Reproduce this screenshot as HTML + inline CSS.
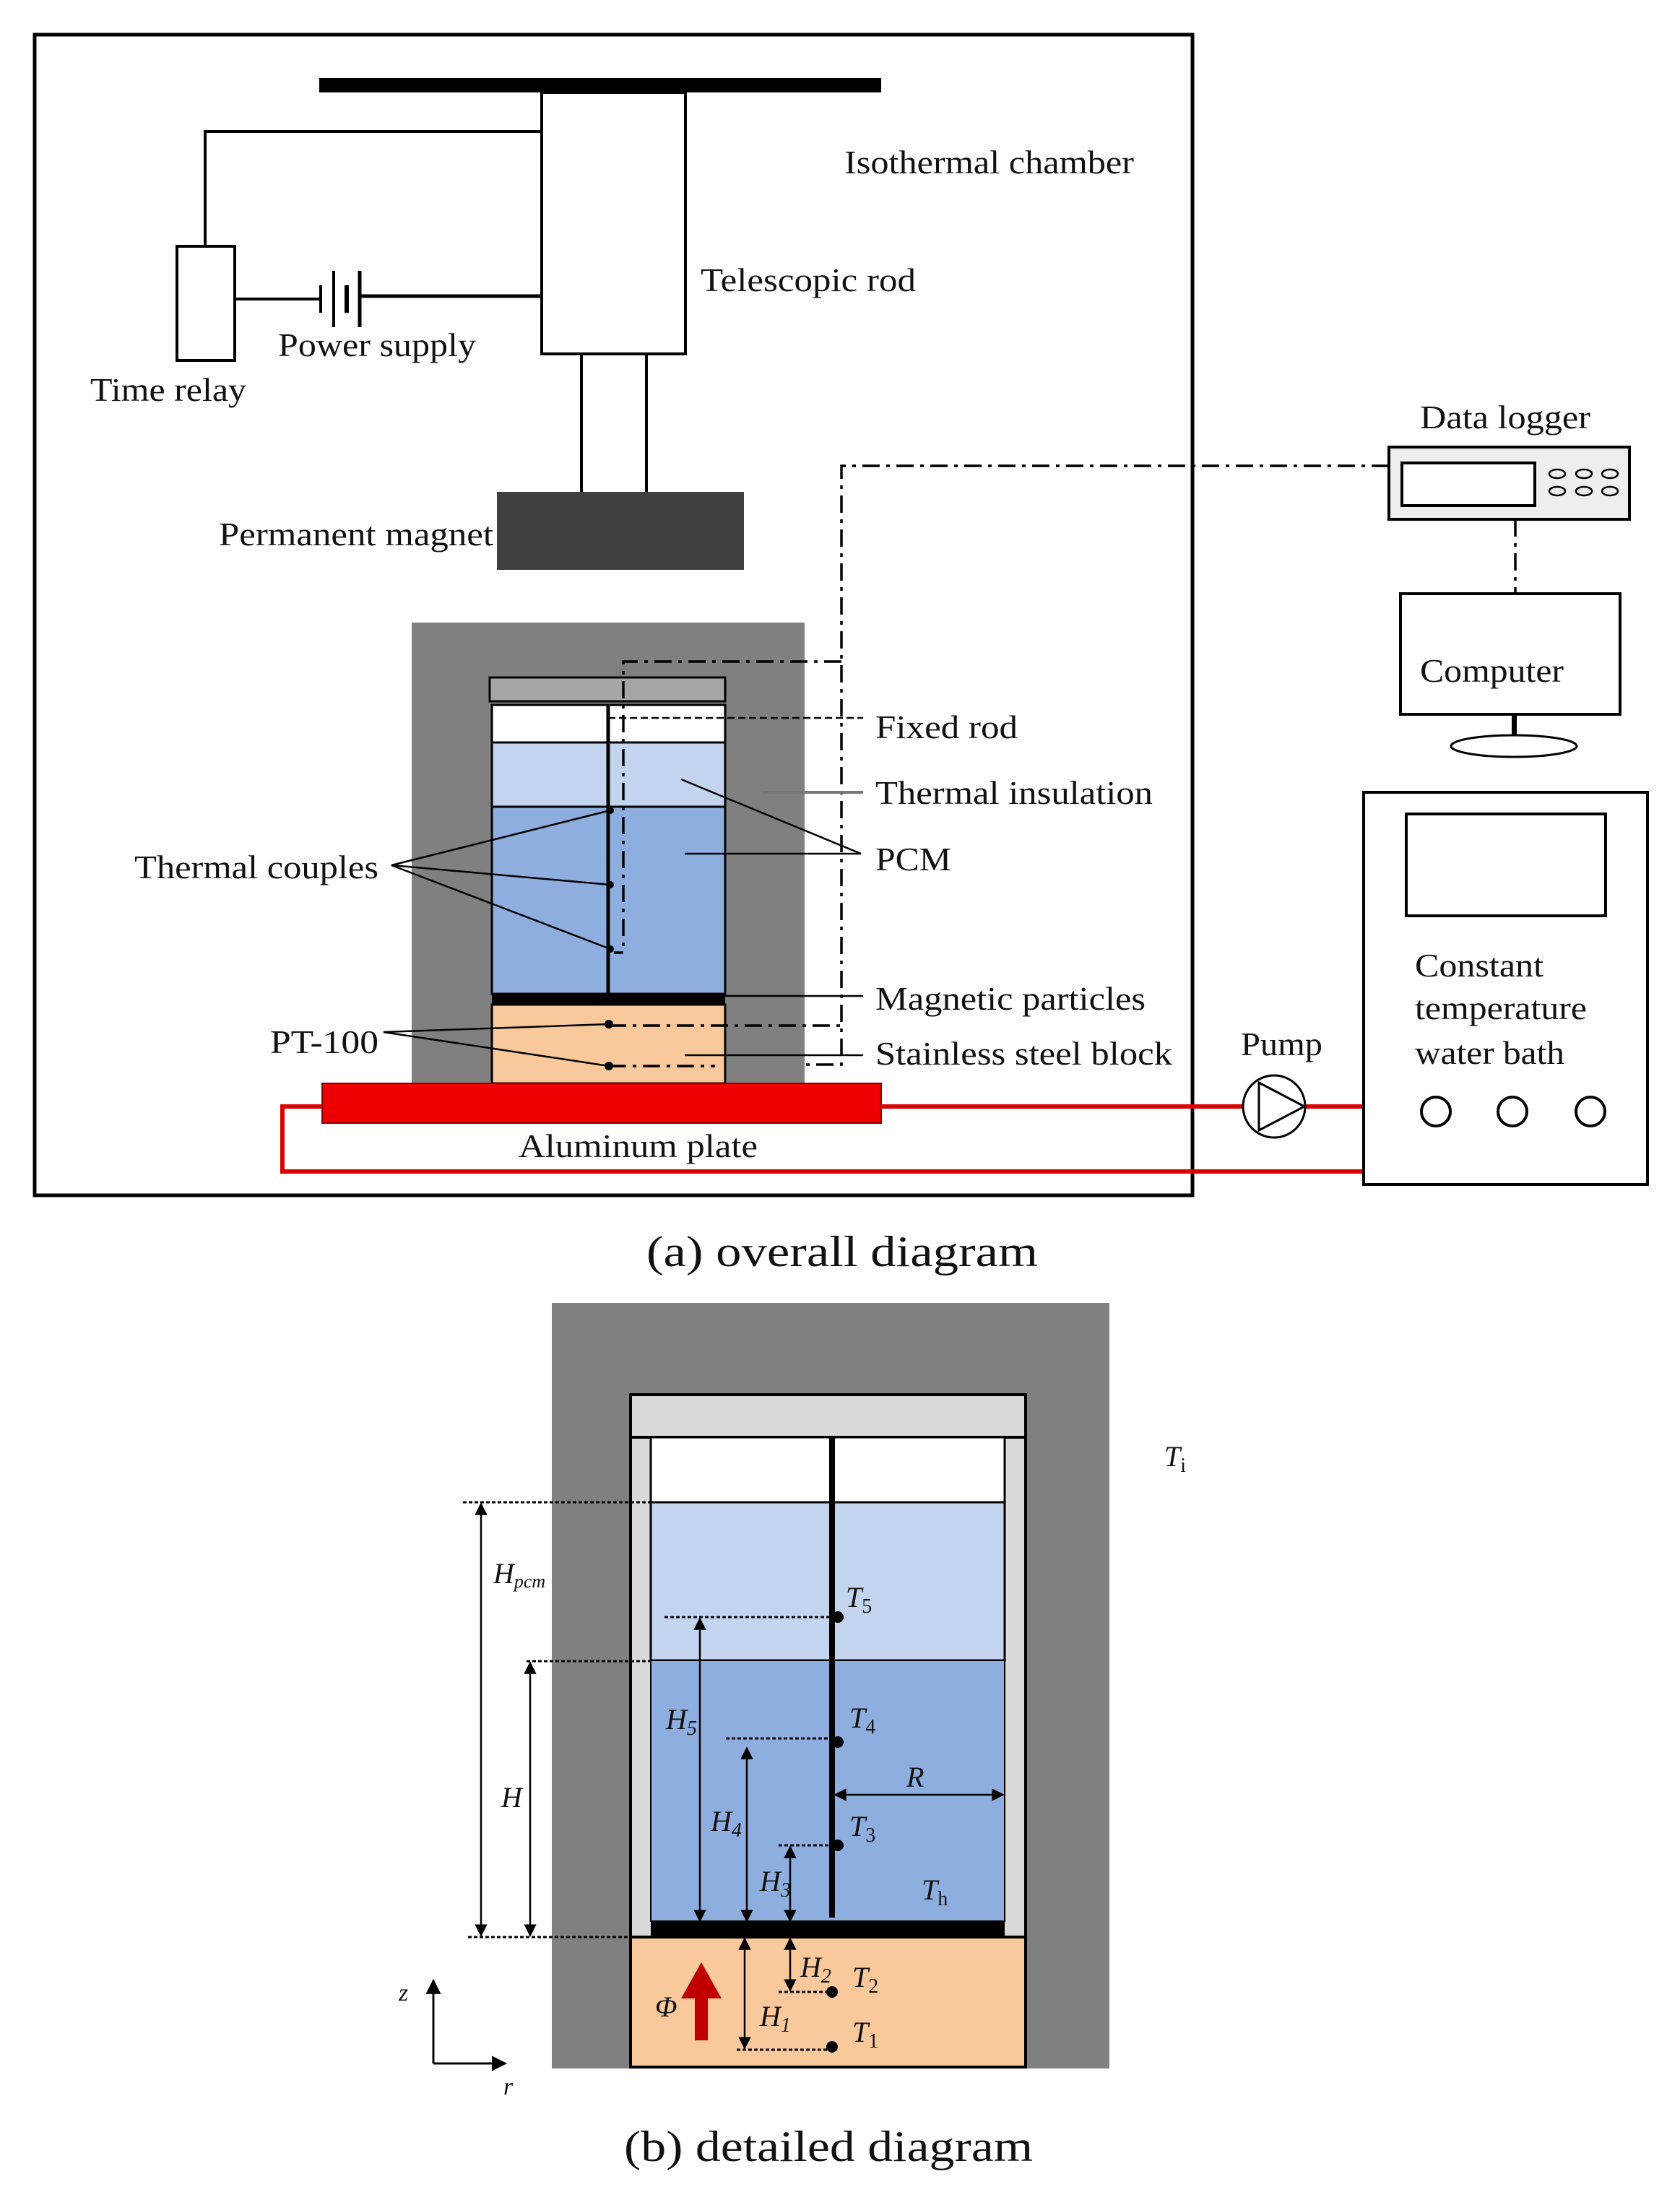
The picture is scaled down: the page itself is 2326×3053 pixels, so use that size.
<!DOCTYPE html>
<html><head><meta charset="utf-8"><style>
html,body{margin:0;padding:0;background:#fff}
svg{display:block}
text{font-family:"Liberation Serif",serif;fill:#111}
</style></head><body>
<svg width="2326" height="3053" viewBox="0 0 2326 3053" xmlns="http://www.w3.org/2000/svg">
<defs>
<marker id="ar" viewBox="0 0 10 10" refX="9" refY="5" markerWidth="7" markerHeight="7" orient="auto-start-reverse"><path d="M0,0 L10,5 L0,10 z" fill="#000"/></marker>
<pattern id="dots" width="12" height="24" patternUnits="userSpaceOnUse"><rect width="12" height="24" fill="#000"/><circle cx="6" cy="3" r="4" fill="#111"/></pattern>
</defs>

<!-- ===== (a) overall ===== -->
<rect x="48" y="48" width="1603" height="1607" fill="none" stroke="#000" stroke-width="5"/>
<rect x="442" y="108" width="778" height="20" fill="#000"/>
<rect x="750" y="128" width="199" height="362" fill="#fff" stroke="#000" stroke-width="4"/>
<line x1="805" y1="490" x2="805" y2="681" stroke="#000" stroke-width="4"/>
<line x1="895" y1="490" x2="895" y2="681" stroke="#000" stroke-width="4"/>
<rect x="688" y="681" width="342" height="108" fill="#404040"/>
<polyline points="750,182 284,182 284,341" fill="none" stroke="#000" stroke-width="4"/>
<rect x="245" y="341" width="80" height="158" fill="#fff" stroke="#000" stroke-width="4"/>
<line x1="325" y1="414" x2="444" y2="414" stroke="#000" stroke-width="4"/>
<line x1="444" y1="395" x2="444" y2="433" stroke="#000" stroke-width="4"/>
<line x1="462" y1="375" x2="462" y2="453" stroke="#000" stroke-width="4"/>
<line x1="480" y1="395" x2="480" y2="433" stroke="#000" stroke-width="6"/>
<line x1="498" y1="375" x2="498" y2="453" stroke="#000" stroke-width="5"/>
<line x1="498" y1="410" x2="750" y2="410" stroke="#000" stroke-width="5"/>

<text x="1169" y="240" font-size="46" textLength="401" lengthAdjust="spacingAndGlyphs">Isothermal chamber</text>
<text x="970" y="403" font-size="46" textLength="298" lengthAdjust="spacingAndGlyphs">Telescopic rod</text>
<text x="385" y="493" font-size="46" textLength="274" lengthAdjust="spacingAndGlyphs">Power supply</text>
<text x="125" y="555" font-size="46" textLength="216" lengthAdjust="spacingAndGlyphs">Time relay</text>
<text x="303" y="755" font-size="46" textLength="380" lengthAdjust="spacingAndGlyphs">Permanent magnet</text>

<!-- insulation + container -->
<rect x="570" y="862" width="544" height="640" fill="#808080"/>
<rect x="678" y="938" width="326" height="33" fill="#a6a6a6" stroke="#000" stroke-width="3"/>
<rect x="681" y="976" width="323" height="52" fill="#fff" stroke="#000" stroke-width="3"/>
<rect x="681" y="1028" width="323" height="89" fill="#c3d5ee" stroke="#000" stroke-width="3"/>
<rect x="681" y="1117" width="323" height="259" fill="#8eaee0" stroke="#000" stroke-width="3"/>
<rect x="681" y="1376" width="323" height="15" fill="#000"/>
<rect x="681" y="1391" width="323" height="109" fill="#f9c89b" stroke="#000" stroke-width="3"/>
<line x1="842" y1="976" x2="842" y2="1376" stroke="#000" stroke-width="5"/>
<circle cx="845" cy="1122" r="5" fill="#000"/><circle cx="845" cy="1225" r="5" fill="#000"/><circle cx="845" cy="1314" r="5" fill="#000"/>
<circle cx="843" cy="1418" r="6" fill="#000"/><circle cx="843" cy="1476" r="6" fill="#000"/>

<!-- dash-dot signal lines -->
<g fill="none" stroke="#000" stroke-width="3.5" stroke-dasharray="24 9 5 9">
<polyline points="1923,645 1165,645 1165,1474 1113,1474"/>
<polyline points="1165,916 863,916 863,1319 850,1319"/>
<line x1="843" y1="1420" x2="1165" y2="1420"/>
<line x1="843" y1="1476" x2="990" y2="1476"/>
<line x1="2098" y1="719" x2="2098" y2="822"/>
</g>
<g fill="none" stroke="#000" stroke-width="2.5">
<line x1="842" y1="994" x2="1195" y2="994" stroke-dasharray="10 5"/>
<line x1="1057" y1="1097" x2="1195" y2="1097" stroke="#777" stroke-width="4"/>
<polyline points="943,1079 1192,1182 948,1182"/>
<polyline points="845,1122 542,1198 845,1225"/>
<line x1="542" y1="1198" x2="845" y2="1314"/>
<line x1="1004" y1="1379" x2="1195" y2="1379"/>
<line x1="948" y1="1461" x2="1195" y2="1461"/>
<polyline points="843,1418 531,1429 843,1476"/>
</g>
<text x="1212" y="1022" font-size="46" textLength="197" lengthAdjust="spacingAndGlyphs">Fixed rod</text>
<text x="1212" y="1113" font-size="46" textLength="384" lengthAdjust="spacingAndGlyphs">Thermal insulation</text>
<text x="1212" y="1205" font-size="46" textLength="105" lengthAdjust="spacingAndGlyphs">PCM</text>
<text x="186" y="1216" font-size="46" textLength="338" lengthAdjust="spacingAndGlyphs">Thermal couples</text>
<text x="1212" y="1398" font-size="46" textLength="374" lengthAdjust="spacingAndGlyphs">Magnetic particles</text>
<text x="1212" y="1474" font-size="46" textLength="411" lengthAdjust="spacingAndGlyphs">Stainless steel block</text>
<text x="374" y="1458" font-size="46" textLength="150" lengthAdjust="spacingAndGlyphs">PT-100</text>

<!-- aluminum plate & water loop -->
<rect x="446" y="1500" width="774" height="55" fill="#ee0000" stroke="#800" stroke-width="2"/>
<polyline points="446,1532 391,1532 391,1622 1888,1622" fill="none" stroke="#d00" stroke-width="6"/>
<line x1="1220" y1="1532" x2="1888" y2="1532" stroke="#d00" stroke-width="6"/>
<text x="718" y="1602" font-size="46" textLength="331" lengthAdjust="spacingAndGlyphs">Aluminum plate</text>
<circle cx="1764" cy="1532" r="43" fill="#fff" stroke="#000" stroke-width="3"/>
<polygon points="1743,1499 1806,1532 1743,1565" fill="none" stroke="#000" stroke-width="3"/>
<text x="1718" y="1461" font-size="46" textLength="113" lengthAdjust="spacingAndGlyphs">Pump</text>

<!-- data logger / computer / bath -->
<text x="1966" y="593" font-size="46" textLength="236" lengthAdjust="spacingAndGlyphs">Data logger</text>
<rect x="1923" y="619" width="333" height="100" fill="#eee" stroke="#000" stroke-width="4"/>
<rect x="1941" y="641" width="184" height="59" fill="#fff" stroke="#000" stroke-width="4"/>
<g fill="none" stroke="#000" stroke-width="2.5">
<ellipse cx="2156" cy="656" rx="11" ry="6"/><ellipse cx="2193" cy="656" rx="11" ry="6"/><ellipse cx="2229" cy="656" rx="11" ry="6"/>
<ellipse cx="2156" cy="680" rx="11" ry="6"/><ellipse cx="2193" cy="680" rx="11" ry="6"/><ellipse cx="2229" cy="680" rx="11" ry="6"/>
</g>
<rect x="1939" y="822" width="304" height="167" fill="#fff" stroke="#000" stroke-width="4"/>
<text x="1966" y="944" font-size="46" textLength="199" lengthAdjust="spacingAndGlyphs">Computer</text>
<rect x="2093" y="989" width="7" height="30" fill="#000"/>
<ellipse cx="2096" cy="1033" rx="87" ry="15" fill="#fff" stroke="#000" stroke-width="3"/>
<rect x="1888" y="1097" width="393" height="543" fill="#fff" stroke="#000" stroke-width="4"/>
<rect x="1947" y="1127" width="276" height="141" fill="#fff" stroke="#000" stroke-width="4"/>
<text x="1959" y="1352" font-size="46" textLength="178" lengthAdjust="spacingAndGlyphs">Constant</text>
<text x="1959" y="1411" font-size="46" textLength="238" lengthAdjust="spacingAndGlyphs">temperature</text>
<text x="1959" y="1473" font-size="46" textLength="207" lengthAdjust="spacingAndGlyphs">water bath</text>
<g fill="none" stroke="#000" stroke-width="4"><circle cx="1988" cy="1539" r="20"/><circle cx="2094" cy="1539" r="20"/><circle cx="2202" cy="1539" r="20"/></g>

<text x="895" y="1753" font-size="60" textLength="542" lengthAdjust="spacingAndGlyphs">(a) overall diagram</text>

<!-- ===== (b) detailed ===== -->
<rect x="764" y="1804" width="772" height="1060" fill="#808080"/>
<rect x="873" y="1931" width="547" height="59" fill="#d9d9d9" stroke="#000" stroke-width="4"/>
<rect x="873" y="1990" width="547" height="692" fill="#d9d9d9" stroke="#000" stroke-width="4"/>
<rect x="901" y="1990" width="490" height="90" fill="#fff" stroke="#000" stroke-width="3"/>
<rect x="901" y="2080" width="490" height="219" fill="#c3d5ee" stroke="#000" stroke-width="3"/>
<rect x="901" y="2299" width="490" height="361" fill="#8eaee0" stroke="#000" stroke-width="2"/>
<rect x="901" y="2660" width="490" height="23" fill="#000"/>
<rect x="873" y="2682" width="547" height="180" fill="#f9c89b" stroke="#000" stroke-width="4"/>
<line x1="1152" y1="1989" x2="1152" y2="2655" stroke="#000" stroke-width="8"/>
<g fill="#000"><circle cx="1160" cy="2239" r="8"/><circle cx="1160" cy="2412" r="8"/><circle cx="1160" cy="2555" r="8"/><circle cx="1152" cy="2758" r="8"/><circle cx="1152" cy="2834" r="8"/></g>
<g stroke="#000" stroke-width="3" stroke-dasharray="5 3" fill="none">
<line x1="641" y1="2080" x2="901" y2="2080"/>
<line x1="729" y1="2300" x2="901" y2="2300"/>
<line x1="920" y1="2239" x2="1152" y2="2239"/>
<line x1="1005" y1="2407" x2="1152" y2="2407"/>
<line x1="1078" y1="2555" x2="1152" y2="2555"/>
<line x1="648" y1="2682" x2="873" y2="2682"/>
<line x1="1078" y1="2758" x2="1152" y2="2758"/>
<line x1="1020" y1="2838" x2="1152" y2="2838"/>
</g>
<g stroke="#000" stroke-width="2.5" fill="none" marker-start="url(#ar)" marker-end="url(#ar)">
<line x1="666" y1="2082" x2="666" y2="2680"/>
<line x1="734" y1="2302" x2="734" y2="2680"/>
<line x1="969" y1="2241" x2="969" y2="2660"/>
<line x1="1034" y1="2420" x2="1034" y2="2660"/>
<line x1="1094" y1="2557" x2="1094" y2="2660"/>
<line x1="1094" y1="2684" x2="1094" y2="2756"/>
<line x1="1031" y1="2684" x2="1031" y2="2836"/>
<line x1="1156" y1="2485" x2="1389" y2="2485"/>
</g>
<g font-style="italic" font-size="40">
<text x="683" y="2192">H<tspan font-size="26" dy="6">pcm</tspan></text>
<text x="694" y="2502">H</text>
<text x="922" y="2394">H<tspan font-size="28" dy="8">5</tspan></text>
<text x="984" y="2535">H<tspan font-size="28" dy="8">4</tspan></text>
<text x="1052" y="2618">H<tspan font-size="28" dy="8">3</tspan></text>
<text x="1108" y="2737">H<tspan font-size="28" dy="8">2</tspan></text>
<text x="1052" y="2805">H<tspan font-size="28" dy="8">1</tspan></text>
<text x="1171" y="2225">T<tspan font-size="28" dy="8" font-style="normal">5</tspan></text>
<text x="1176" y="2392">T<tspan font-size="28" dy="8" font-style="normal">4</tspan></text>
<text x="1176" y="2542">T<tspan font-size="28" dy="8" font-style="normal">3</tspan></text>
<text x="1180" y="2751">T<tspan font-size="28" dy="8" font-style="normal">2</tspan></text>
<text x="1180" y="2827">T<tspan font-size="28" dy="8" font-style="normal">1</tspan></text>
<text x="1276" y="2630">T<tspan font-size="28" dy="8" font-style="normal">h</tspan></text>
<text x="1612" y="2030">T<tspan font-size="28" dy="8" font-style="normal">i</tspan></text>
<text x="1255" y="2474">R</text>
<text x="907" y="2792">Φ</text>
<text x="552" y="2770" font-size="34">z</text>
<text x="697" y="2900" font-size="34">r</text>
</g>
<!-- flux arrow -->
<polygon points="962,2825 980,2825 980,2767 999,2767 971,2717 943,2767 962,2767" fill="#c00000"/>
<!-- axes -->
<g stroke="#000" stroke-width="3" fill="none">
<line x1="600" y1="2857" x2="600" y2="2742" marker-end="url(#ar)"/>
<line x1="600" y1="2857" x2="700" y2="2857" marker-end="url(#ar)"/>
</g>

<text x="864" y="2992" font-size="60" textLength="566" lengthAdjust="spacingAndGlyphs">(b) detailed diagram</text>
</svg>
</body></html>
